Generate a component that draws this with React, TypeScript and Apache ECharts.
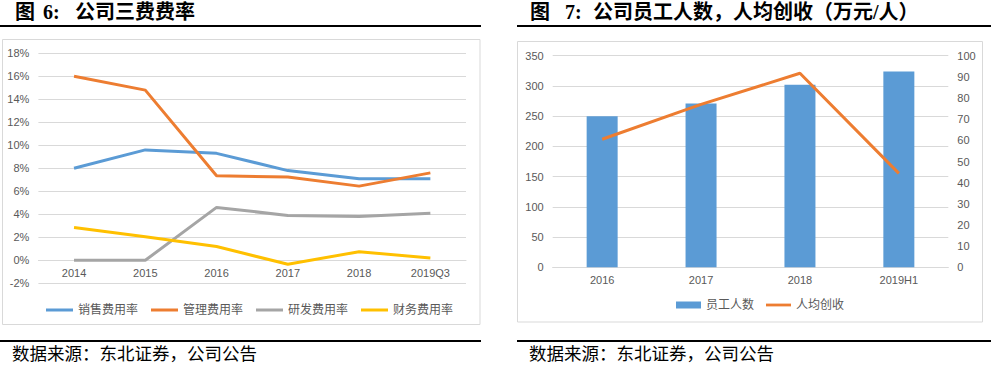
import React, { useEffect, useRef } from 'react';
import * as echarts from 'echarts';

// ---- Figure 6: expense ratios (%) ----
const expenseYears = ['2014', '2015', '2016', '2017', '2018', '2019Q3'];
const salesRate = [8.0, 9.6, 9.3, 7.8, 7.1, 7.1];
const adminRate = [16.0, 14.8, 7.35, 7.25, 6.45, 7.6];
const rdRate = [0, 0, 4.6, 3.9, 3.8, 4.1];
const financeRate = [2.85, 2.05, 1.2, -0.35, 0.75, 0.2];
const expenseNames = ['销售费用率', '管理费用率', '研发费用率', '财务费用率'];

// ---- Figure 7: staff count and revenue per head ----
const staffYears = ['2016', '2017', '2018', '2019H1'];
const staffCount = [250, 271, 302, 324];
const revenuePerHead = [60.5, 77, 91.7, 44.4];
const staffNames = ['员工人数', '人均创收'];

const labelFont = "'Liberation Sans', 'Noto Sans CJK SC', sans-serif";
const titleFont = "'Liberation Serif', 'Noto Sans CJK SC', serif";
const gridColor = '#d9d9d9';
const labelColor = '#595959';
const lineIcon = 'path://M0,0h27v3h-27z';

export default function App() {
  const ref = useRef<HTMLDivElement>(null);

  useEffect(() => {
    const chart = echarts.init(ref.current!, null, { renderer: 'svg' });
    const axisLabel = { fontSize: 11, color: labelColor, fontFamily: labelFont };
    const mkText = (text: string, x: number, y: number, size: number, bold: boolean) => ({
      type: 'text',
      x,
      y,
      style: {
        text,
        fontSize: size,
        fontWeight: bold ? 'bold' : 'normal',
        fontFamily: titleFont,
        fill: '#000',
        verticalAlign: 'middle',
        align: 'left',
      },
    });
    const mkLine = (x1: number, x2: number, y: number) => ({
      type: 'line',
      shape: { x1, y1: y, x2, y2: y },
      style: { stroke: '#000', lineWidth: 2 },
    });
    chart.setOption({
      animation: false,
      backgroundColor: '#fff',
      graphic: [
        mkText('图', 15, 12, 20, true),
        mkText('6:', 43, 12, 20, true),
        mkText('公司三费费率', 75, 12, 20, true),
        mkText('图', 530, 12, 20, true),
        mkText('7:', 565, 12, 20, true),
        mkText('公司员工人数，人均创收（万元/人）', 593, 12, 20, true),
        mkLine(0, 481, 26),
        mkLine(517, 991, 26),
        mkLine(0, 481, 341),
        mkLine(517, 991, 341),
        {
          type: 'rect',
          shape: { x: 2.5, y: 39.5, width: 477.5, height: 285 },
          style: { fill: 'none', stroke: gridColor, lineWidth: 1 },
        },
        {
          type: 'rect',
          shape: { x: 517.5, y: 41.5, width: 465, height: 280.5 },
          style: { fill: 'none', stroke: gridColor, lineWidth: 1 },
        },
        mkText('数据来源：东北证券，公司公告', 12, 354, 17.5, false),
        mkText('数据来源：东北证券，公司公告', 529, 354, 17.5, false),
      ],
      grid: [
        { left: 38.4, top: 53.3, width: 427.6, height: 230 },
        { left: 552.7, top: 55.7, width: 395.6, height: 211.6 },
      ],
      legend: [
        {
          data: expenseNames.map((name) => ({ name, icon: lineIcon })),
          left: 41,
          top: 299,
          itemWidth: 27,
          itemHeight: 3,
          itemGap: 13,
          selectedMode: false,
          textStyle: { fontSize: 12, color: labelColor, fontFamily: labelFont },
        },
        {
          data: [
            { name: staffNames[0], icon: 'rect' },
            { name: staffNames[1], icon: lineIcon },
          ],
          left: 671,
          top: 294,
          itemWidth: 25,
          itemHeight: 7,
          itemGap: 12,
          selectedMode: false,
          textStyle: { fontSize: 12, color: labelColor, fontFamily: labelFont },
        },
      ],
      xAxis: [
        {
          gridIndex: 0,
          type: 'category',
          data: expenseYears,
          boundaryGap: true,
          position: 'bottom',
          offset: -23,
          axisLine: { show: true, onZero: false, lineStyle: { color: gridColor } },
          axisTick: { show: false },
          axisLabel: { ...axisLabel, margin: 7 },
        },
        {
          gridIndex: 1,
          type: 'category',
          data: staffYears,
          boundaryGap: true,
          axisLine: { show: true, lineStyle: { color: gridColor } },
          axisTick: { show: false },
          axisLabel: { ...axisLabel, margin: 7 },
        },
      ],
      yAxis: [
        {
          gridIndex: 0,
          type: 'value',
          min: -2,
          max: 18,
          interval: 2,
          axisLine: { show: false },
          axisTick: { show: false },
          axisLabel: { ...axisLabel, margin: 9, formatter: '{value}%' },
          splitLine: { lineStyle: { color: gridColor } },
        },
        {
          gridIndex: 1,
          type: 'value',
          position: 'left',
          min: 0,
          max: 350,
          interval: 50,
          axisLine: { show: false },
          axisTick: { show: false },
          axisLabel: { ...axisLabel, margin: 9 },
          splitLine: { lineStyle: { color: gridColor } },
        },
        {
          gridIndex: 1,
          type: 'value',
          position: 'right',
          min: 0,
          max: 100,
          interval: 10,
          axisLine: { show: false },
          axisTick: { show: false },
          axisLabel: { ...axisLabel, margin: 9 },
          splitLine: { show: false },
        },
      ],
      series: [
        {
          name: expenseNames[0], type: 'line', xAxisIndex: 0, yAxisIndex: 0, data: salesRate,
          symbol: 'none', lineStyle: { width: 3, color: '#5B9BD5' }, itemStyle: { color: '#5B9BD5' },
        },
        {
          name: expenseNames[1], type: 'line', xAxisIndex: 0, yAxisIndex: 0, data: adminRate,
          symbol: 'none', lineStyle: { width: 3, color: '#ED7D31' }, itemStyle: { color: '#ED7D31' },
        },
        {
          name: expenseNames[2], type: 'line', xAxisIndex: 0, yAxisIndex: 0, data: rdRate,
          symbol: 'none', lineStyle: { width: 3, color: '#A5A5A5' }, itemStyle: { color: '#A5A5A5' },
        },
        {
          name: expenseNames[3], type: 'line', xAxisIndex: 0, yAxisIndex: 0, data: financeRate,
          symbol: 'none', lineStyle: { width: 3, color: '#FFC000' }, itemStyle: { color: '#FFC000' },
        },
        {
          name: staffNames[0], type: 'bar', xAxisIndex: 1, yAxisIndex: 1, data: staffCount,
          barWidth: 31, itemStyle: { color: '#5B9BD5' },
        },
        {
          name: staffNames[1], type: 'line', xAxisIndex: 1, yAxisIndex: 2, data: revenuePerHead,
          symbol: 'none', z: 5, lineStyle: { width: 3, color: '#ED7D31' }, itemStyle: { color: '#ED7D31' },
        },
      ],
    });
    return () => chart.dispose();
  }, []);

  return (
    <div
      ref={ref}
      style={{ position: 'absolute', left: 0, top: 0, width: 991, height: 373, background: '#fff' }}
    />
  );
}
